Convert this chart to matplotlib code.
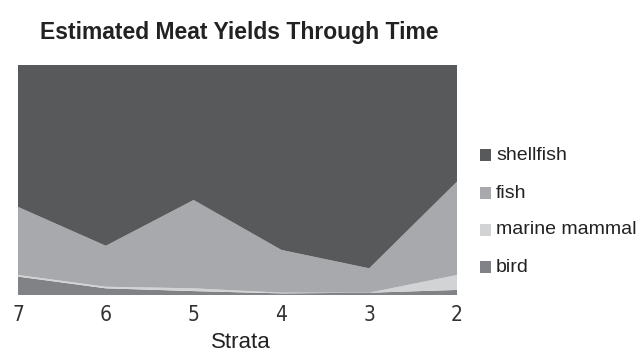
import matplotlib
matplotlib.use("Agg")
import matplotlib.pyplot as plt
from matplotlib.patches import Rectangle
from matplotlib import font_manager

# Data (percent of meat yield per stratum)
strata = ['7', '6', '5', '4', '3', '2']
bird = [8.0, 2.9, 1.7, 0.7, 1.0, 2.2]
marine_mammal = [0.7, 0.7, 1.2, 0.3, 0.0, 6.5]
fish = [29.6, 17.8, 38.4, 18.6, 10.6, 40.6]
shellfish = [100 - b - m - f for b, m, f in zip(bird, marine_mammal, fish)]

labels = ['shellfish', 'fish', 'marine mammal', 'bird']
colors = {'shellfish': '#58595b', 'fish': '#a7a9ac',
          'marine mammal': '#d1d3d4', 'bird': '#808285'}

plt.rcParams['font.family'] = ['Liberation Sans', 'DejaVu Sans']

# look for a condensed face for the tick numbers
tick_font = {'family': ['DejaVu Sans']}
cands = [f.fname for f in font_manager.fontManager.ttflist
         if ('Narrow' in f.fname or 'Condensed' in f.fname)
         and 'Bold' not in f.fname and 'Italic' not in f.fname
         and 'Oblique' not in f.fname]
cands.sort(key=lambda p: ('Liberation' not in p, p))
if cands:
    tick_font = {'fontproperties': font_manager.FontProperties(fname=cands[0], size=15)}

W, H = 636, 356
fig = plt.figure(figsize=(W / 100, H / 100), dpi=100)
ax = fig.add_axes([18 / W, 1 - 295 / H, 439 / W, 230 / H])

x = list(range(len(strata)))
ax.stackplot(x, bird, marine_mammal, fish, shellfish,
             colors=[colors['bird'], colors['marine mammal'],
                     colors['fish'], colors['shellfish']],
             linewidth=0)

ax.set_xlim(0, len(strata) - 1)
ax.set_ylim(0, 100)
ax.set_yticks([])
ax.set_xticks(x)
ax.set_xticklabels(strata, fontsize=15, color='#333333', **tick_font)
ax.tick_params(axis='x', length=0, pad=7)
for s in ax.spines.values():
    s.set_visible(False)

fig.text(241 / W, 1 - 343 / H, 'Strata', ha='center', va='center',
         fontsize=16, color='#222222')
fig.text(239 / W, 1 - 33 / H, 'Estimated Meat Yields Through Time',
         ha='center', va='center', fontsize=16.5, fontweight='bold',
         color='#222222')

# legend drawn by hand to match spacing
for lab, yc in zip(labels, [155, 193, 230, 267]):
    fig.add_artist(Rectangle((480 / W, 1 - (yc + 6) / H), 11 / W, 12 / H,
                             transform=fig.transFigure,
                             facecolor=colors[lab], edgecolor='none'))
    fig.text(496 / W, 1 - yc / H, lab, ha='left', va='center',
             fontsize=14, color='#222222')

fig.savefig('out.png', dpi=100)
